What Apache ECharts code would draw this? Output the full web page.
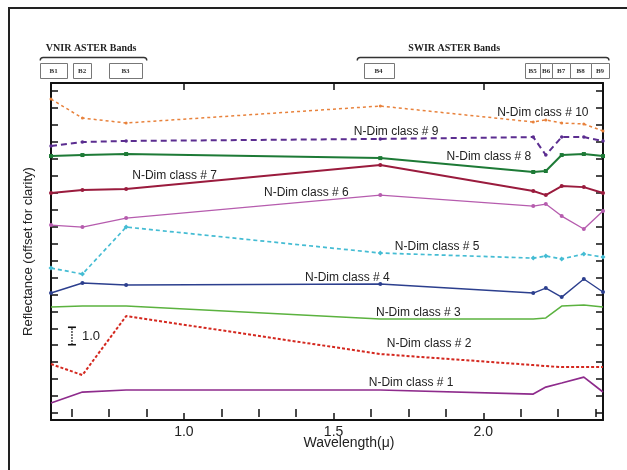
<!DOCTYPE html>
<html><head><meta charset="utf-8">
<script src="https://cdn.jsdelivr.net/npm/echarts@6/dist/echarts.min.js"></script>
<style>html,body{margin:0;padding:0;background:#fff}#c{width:627px;height:470px}</style>
</head><body><div id="c"></div>
<script>
// ASTER bands (wavelength in micrometres)
const bandNames   = ['B1','B2','B3','B4','B5','B6','B7','B8','B9'];
const bandCenters = [0.556, 0.661, 0.807, 1.656, 2.167, 2.209, 2.262, 2.336, 2.400];
const bandStart   = [0.52, 0.63, 0.75, 1.60, 2.14, 2.19, 2.23, 2.29, 2.36];
const bandEnd     = [0.61, 0.69, 0.86, 1.70, 2.19, 2.23, 2.29, 2.36, 2.42];

const groupNames  = ['VNIR ASTER Bands', 'SWIR ASTER Bands'];
const groupStart  = [0.52, 1.579];
const groupEnd    = [0.876, 2.42];
const groupLabelX = [0.69, 1.903];

// Reflectance values (offset for clarity), one per band
const class1  = [0.59, 1.24, 1.36, 1.36, 1.12, 1.53, 1.77, 2.12, 1.24];
const class2  = [2.89, 2.24, 5.72, 3.48, 2.83, 2.77, 2.71, 2.71, 2.71];
const class3  = [6.25, 6.31, 6.31, 5.55, 5.55, 5.61, 6.31, 6.37, 6.25];
const class4  = [7.08, 7.67, 7.55, 7.61, 7.08, 7.37, 6.84, 7.91, 7.14];
const class5  = [8.55, 8.20, 10.97, 9.44, 9.14, 9.26, 9.09, 9.38, 9.20];
const class6  = [11.09, 10.97, 11.50, 12.86, 12.21, 12.33, 11.62, 10.86, 11.92];
const class7  = [12.98, 13.16, 13.22, 14.63, 13.10, 12.86, 13.39, 13.33, 12.98];
const class8  = [15.16, 15.22, 15.28, 15.04, 14.22, 14.28, 15.22, 15.28, 15.16];
const class9  = [15.75, 15.99, 16.05, 16.17, 16.28, 15.22, 16.28, 16.28, 16.05];
const class10 = [18.52, 17.40, 17.11, 18.11, 17.17, 17.29, 17.11, 17.05, 16.64];

const classNames = ['N-Dim class # 1','N-Dim class # 2','N-Dim class # 3','N-Dim class # 4','N-Dim class # 5',
                    'N-Dim class # 6','N-Dim class # 7','N-Dim class # 8','N-Dim class # 9','N-Dim class # 10'];
const labelX = [1.759, 1.819, 1.783, 1.546, 1.846, 1.409, 0.969, 2.019, 1.709, 2.199];
const labelY = [1.77, 4.07, 5.90, 7.96, 9.79, 12.98, 14.01, 15.10, 16.58, 17.70];

// scale bar
const scaleBarX = [0.626];
const scaleBarFrom = [4.03];
const scaleBarTo = [5.06];
const scaleBarText = ['1.0'];

// ticks
const xMajorTicks = [1.0, 1.5, 2.0];
const xMinorTicks = [0.625, 0.75, 0.875, 1.125, 1.25, 1.375, 1.625, 1.75, 1.875, 2.125, 2.25, 2.375];
const yTicks = [0,1,2,3,4,5,6,7,8,9,10,11,12,13,14,15,16,17,18,19];

const allClasses = [class1,class2,class3,class4,class5,class6,class7,class8,class9,class10];
const styles = [
  {color:'#8e2b8c', width:1.7, type:'solid', symbol:'none'},
  {color:'#d4281f', width:2, type:[3,2], symbol:'none'},
  {color:'#5bb23f', width:1.5, type:'solid', symbol:'none'},
  {color:'#2c3f8e', width:1.4, type:'solid', symbol:'circle', size:4},
  {color:'#44bcd3', width:1.7, type:[4,3], symbol:'diamond', size:5},
  {color:'#b65cae', width:1.3, type:'solid', symbol:'circle', size:4},
  {color:'#9a1b3d', width:1.9, type:'solid', symbol:'circle', size:4},
  {color:'#1d7a36', width:2, type:'solid', symbol:'rect', size:4},
  {color:'#5b2d90', width:2, type:[6,4], symbol:'circle', size:3.5},
  {color:'#e8823c', width:1.5, type:[3,3], symbol:'circle', size:3}
];

const FONT = '"Liberation Sans", Arial, sans-serif';
const SERIF = '"Liberation Serif", "Times New Roman", serif';

const lineSeries = allClasses.map((vals, k) => ({
  type:'line', name: classNames[k], xAxisIndex:0, yAxisIndex:0,
  data: bandCenters.map((x,i)=>[x, vals[i]]),
  symbol: styles[k].symbol, symbolSize: styles[k].size || 0,
  showSymbol: styles[k].symbol !== 'none',
  lineStyle:{color:styles[k].color, width:styles[k].width, type:styles[k].type},
  itemStyle:{color:styles[k].color},
  clip:false, z: 3
}));

const chart = echarts.init(document.getElementById('c'), null, {renderer:'canvas'});
chart.setOption({
  animation:false,
  backgroundColor:'#fff',
  graphic:[
    {type:'rect', shape:{x:9, y:8, width:800, height:700}, style:{fill:'none', stroke:'#222', lineWidth:2}, z:-10},
    {type:'text', style:{text:'Wavelength(\u03bc)', x:349, y:443, align:'center', verticalAlign:'middle', font:'14px '+FONT, fill:'#222'}}
  ],
  grid:{left:51, top:83, width:552, height:337, containLabel:false},
  xAxis:[
    {type:'value', min:0.556, max:2.4, position:'bottom',
     axisLine:{show:true, onZero:false, lineStyle:{color:'#111', width:2}},
     axisTick:{show:true, inside:true, length:7, customValues:xMajorTicks, lineStyle:{color:'#111', width:1.5}},
     axisLabel:{show:true, customValues:xMajorTicks, margin:5, fontSize:14, color:'#222', fontFamily:FONT, formatter:v=>v.toFixed(1)},
     splitLine:{show:false}},
    {type:'value', min:0.556, max:2.4, position:'bottom',
     axisLine:{show:false},
     axisTick:{show:true, inside:true, length:4, customValues:xMinorTicks, lineStyle:{color:'#111', width:1.5}},
     axisLabel:{show:false}, splitLine:{show:false}},
    {type:'value', min:0.556, max:2.4, position:'top',
     axisLine:{show:true, onZero:false, lineStyle:{color:'#111', width:2}},
     axisTick:{show:true, inside:true, length:7, customValues:xMajorTicks, lineStyle:{color:'#111', width:1.5}},
     axisLabel:{show:false}, splitLine:{show:false}},
    {type:'value', min:0.556, max:2.4, position:'top',
     axisLine:{show:false},
     axisTick:{show:true, inside:true, length:4, customValues:xMinorTicks, lineStyle:{color:'#111', width:1.5}},
     axisLabel:{show:false}, splitLine:{show:false}}
  ],
  yAxis:[
    {type:'value', min:-0.41, max:19.47, position:'left',
     name:'Reflectance (offset for clarity)', nameLocation:'middle', nameGap:16,
     nameTextStyle:{fontSize:13, color:'#222', fontFamily:FONT},
     axisLine:{show:true, onZero:false, lineStyle:{color:'#111', width:2}},
     axisTick:{show:true, inside:true, length:7, customValues:yTicks, lineStyle:{color:'#111', width:1.5}},
     axisLabel:{show:false}, splitLine:{show:false}},
    {type:'value', min:-0.41, max:19.47, position:'right',
     axisLine:{show:true, onZero:false, lineStyle:{color:'#111', width:2}},
     axisTick:{show:true, inside:true, length:7, customValues:yTicks, lineStyle:{color:'#111', width:1.5}},
     axisLabel:{show:false}, splitLine:{show:false}}
  ],
  series: lineSeries.concat([
    { // band boxes
      type:'custom', xAxisIndex:0, yAxisIndex:0, clip:false, silent:true,
      data: bandNames.map((n,i)=>[bandStart[i], bandEnd[i], i]),
      encode:{x:[0,1]},
      renderItem:(params, api)=>{
        const x1 = api.coord([api.value(0), 0])[0];
        const x2 = api.coord([api.value(1), 0])[0];
        const top = params.coordSys.y;
        return {type:'group', children:[
          {type:'rect', shape:{x:Math.round(x1)+0.5, y:top-19.5, width:Math.round(x2-x1), height:15},
           style:{fill:'#fff', stroke:'#777', lineWidth:1}},
          {type:'text', style:{text:bandNames[api.value(2)], x:(x1+x2)/2, y:top-12,
           align:'center', verticalAlign:'middle', font:'bold 7px '+SERIF, fill:'#333'}}
        ]};
      }
    },
    { // group brackets
      type:'custom', xAxisIndex:0, yAxisIndex:0, clip:false, silent:true,
      data: groupNames.map((n,i)=>[groupStart[i], groupEnd[i], groupLabelX[i], i]),
      encode:{x:[0,1]},
      renderItem:(params, api)=>{
        const x1 = api.coord([api.value(0), 0])[0];
        const x2 = api.coord([api.value(1), 0])[0];
        const xt = api.coord([api.value(2), 0])[0];
        const y = params.coordSys.y - 25.5;
        return {type:'group', children:[
          {type:'path', shape:{pathData:`M${x1} ${y+3} Q${x1} ${y} ${x1+3} ${y} L${x2-3} ${y} Q${x2} ${y} ${x2} ${y+3}`},
           style:{fill:'none', stroke:'#333', lineWidth:1.4}},
          {type:'text', style:{text:groupNames[api.value(3)], x:xt, y:y-9.5, align:'center', verticalAlign:'middle',
           font:'bold 10px '+SERIF, fill:'#222'}}
        ]};
      }
    },
    { // scale bar
      type:'custom', xAxisIndex:0, yAxisIndex:0, clip:false, silent:true,
      data: scaleBarX.map((x,i)=>[x, scaleBarFrom[i], scaleBarTo[i], i]),
      encode:{x:0, y:[1,2]},
      renderItem:(params, api)=>{
        const p1 = api.coord([api.value(0), api.value(1)]);
        const p2 = api.coord([api.value(0), api.value(2)]);
        return {type:'group', children:[
          {type:'line', shape:{x1:p1[0], y1:p1[1], x2:p2[0], y2:p2[1]}, style:{stroke:'#111', lineWidth:1.5, lineDash:[1.5,1.5]}},
          {type:'line', shape:{x1:p1[0]-4, y1:p1[1], x2:p1[0]+4, y2:p1[1]}, style:{stroke:'#111', lineWidth:1.6}},
          {type:'line', shape:{x1:p2[0]-4, y1:p2[1], x2:p2[0]+4, y2:p2[1]}, style:{stroke:'#111', lineWidth:1.6}},
          {type:'text', style:{text:scaleBarText[api.value(3)], x:p1[0]+10, y:(p1[1]+p2[1])/2, align:'left', verticalAlign:'middle',
           font:'13px '+FONT, fill:'#222'}}
        ]};
      }
    },
    { // class labels
      type:'custom', xAxisIndex:0, yAxisIndex:0, clip:false, silent:true, z:5,
      data: classNames.map((n,i)=>[labelX[i], labelY[i], i]),
      encode:{x:0, y:1},
      renderItem:(params, api)=>{
        const p = api.coord([api.value(0), api.value(1)]);
        return {type:'text', style:{text:classNames[api.value(2)], x:p[0], y:p[1], align:'center', verticalAlign:'middle',
          font:'12px '+FONT, fill:'#222'}};
      }
    }
  ])
});
</script>
</body></html>
